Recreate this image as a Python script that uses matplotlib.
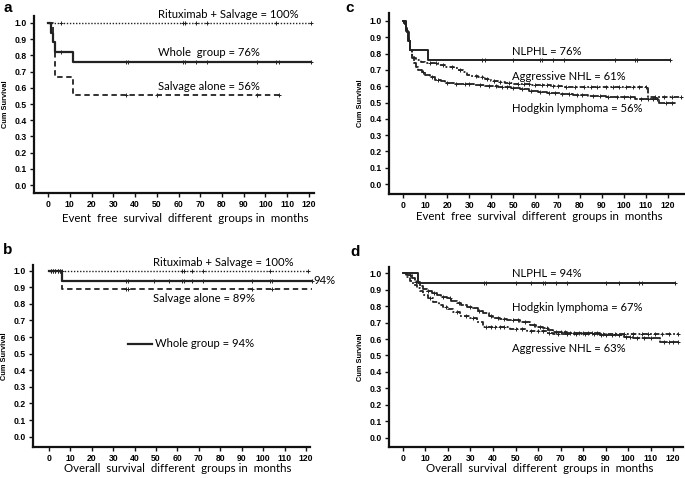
import numpy as np
import matplotlib
matplotlib.use("Agg")
import matplotlib.pyplot as plt
import matplotlib.transforms as mtransforms

# ---------------- DATA ----------------
# Panel a: event free survival by treatment
a_ritux_t = [0, 121]
a_ritux_s = [1.0, 1.0]
a_ritux_cens = [6, 62, 63, 68, 73, 105, 121]
a_whole_t = [0, 1.2, 2.4, 3.2, 11.3, 121]
a_whole_s = [1.0, 0.94, 0.88, 0.82, 0.76, 0.76]
a_whole_cens = [6, 36, 37, 62, 63, 68, 73, 96, 105, 106, 121]
a_salv_t = [0, 2.4, 3.2, 11.3, 106]
a_salv_s = [1.0, 0.89, 0.667, 0.556, 0.556]
a_salv_cens = [36, 50, 96, 106]

# Panel b: overall survival by treatment
b_ritux_t = [0, 121]
b_ritux_s = [1.0, 1.0]
b_ritux_cens = [1, 2, 3, 4, 5, 6, 62, 63, 67, 72, 103, 121]
b_whole_t = [0, 6.3, 123]
b_whole_s = [1.0, 0.94, 0.94]
b_whole_cens = [1, 2, 3, 4, 5, 36, 37, 49, 56, 62, 63, 67, 72, 95, 103, 104, 123]
b_salv_t = [0, 6.3, 123]
b_salv_s = [1.0, 0.89, 0.89]
b_salv_cens = [36, 37, 95, 104]

# Panel c: event free survival by histology
c_nlphl_t = [0, 1.2, 2.4, 3.2, 11.3, 121]
c_nlphl_s = [1.0, 0.94, 0.88, 0.82, 0.76, 0.76]
c_nlphl_cens = [36, 37, 50, 62, 63, 68, 73, 96, 105, 106, 121]
c_nhl_t = [0, 0.5, 1, 1.5, 2, 2.5, 3, 4, 5, 6, 8, 10, 13, 16, 19, 21, 23, 25, 27, 29, 31,
           34, 37, 40, 43, 46, 50, 58, 67, 72, 111, 126]
c_nhl_s = [1.0, 0.99, 0.98, 0.96, 0.93, 0.88, 0.82, 0.79, 0.77, 0.76, 0.75, 0.745, 0.74,
           0.73, 0.72, 0.715, 0.71, 0.70, 0.685, 0.67, 0.66, 0.655, 0.645, 0.635, 0.625,
           0.62, 0.613, 0.607, 0.60, 0.595, 0.535, 0.535]
c_nhl_cens = [12, 15, 18, 22, 26, 33, 36, 38, 41, 44, 48, 52, 55, 57, 60, 63, 65, 68, 70,
              74, 78, 82, 85, 88, 92, 95, 98, 101, 104, 107, 110, 114, 118, 122, 126]
c_hl_t = [0, 0.5, 1, 1.5, 2, 2.5, 3, 4, 5, 6, 7, 8.5, 10, 12, 14.5, 17, 19, 23, 27, 32, 37,
          43, 49, 53, 57, 61, 65, 71, 77, 84, 92, 105, 116, 124]
c_hl_s = [1.0, 0.99, 0.98, 0.96, 0.93, 0.88, 0.82, 0.77, 0.74, 0.72, 0.70, 0.685, 0.67,
          0.655, 0.64, 0.63, 0.62, 0.615, 0.613, 0.605, 0.60, 0.595, 0.587, 0.58, 0.572,
          0.565, 0.56, 0.553, 0.546, 0.54, 0.536, 0.52, 0.50, 0.50]
c_hl_cens = [9, 13, 16, 20, 24, 28, 30, 35, 39, 42, 45, 47, 50, 54, 58, 62, 66, 69, 72, 75,
             79, 81, 86, 89, 93, 97, 100, 103, 108, 111, 113, 115, 119, 122]

# Panel d: overall survival by histology
d_nlphl_t = [0, 6.5, 121]
d_nlphl_s = [1.0, 0.943, 0.943]
d_nlphl_cens = [36, 37, 50, 57, 62, 63, 68, 73, 90, 96, 105, 106, 121]
d_hl_t = [0, 2, 3.9, 5.5, 7.6, 9, 10.5, 13, 15, 17, 19.4, 21.5, 23.9, 26, 28.3, 31.3, 33.5,
          35.7, 38, 40.1, 43, 46, 52, 56.4, 59, 62.4, 64.5, 66.8, 72.7, 87.6, 98, 102,
          114, 122]
d_hl_s = [1.0, 0.99, 0.97, 0.945, 0.92, 0.905, 0.89, 0.878, 0.868, 0.858, 0.848, 0.833,
          0.818, 0.808, 0.797, 0.787, 0.772, 0.757, 0.742, 0.727, 0.721, 0.716, 0.706,
          0.686, 0.676, 0.666, 0.655, 0.645, 0.635, 0.625, 0.615, 0.605, 0.58, 0.58]
d_hl_cens = [3, 6, 11, 14, 18, 21, 25, 30, 34, 39, 42, 45, 49, 51, 54, 58, 61, 64, 68, 70,
             72, 74, 76, 78, 80, 82, 84, 86, 88, 90, 93, 96, 99, 101, 104, 107, 110, 116,
             118, 120, 122]
d_nhl_t = [0, 1.5, 3.1, 4.5, 6.1, 7.5, 9, 11, 13.5, 16, 17.9, 20, 22.4, 25.3, 29.8, 32.7,
           35.7, 47.6, 55, 63.9, 66.8, 122]
d_nhl_s = [1.0, 0.98, 0.95, 0.93, 0.91, 0.89, 0.868, 0.848, 0.828, 0.81, 0.797, 0.782,
           0.767, 0.74, 0.727, 0.706, 0.676, 0.66, 0.65, 0.635, 0.629, 0.629]
d_nhl_cens = [12, 19, 24, 28, 31, 37, 39, 41, 43, 45, 50, 53, 57, 60, 62, 65, 69, 73, 77,
              81, 85, 89, 94, 98, 102, 106, 109, 112, 115, 118, 122]

y_ticks = [0.0, 0.1, 0.2, 0.3, 0.4, 0.5, 0.6, 0.7, 0.8, 0.9, 1.0]
x_ticks = [0, 10, 20, 30, 40, 50, 60, 70, 80, 90, 100, 110, 120]

# ---------------- STYLE ----------------
W, H = 685, 478
fig = plt.figure(figsize=(W / 100, H / 100), dpi=100)
TXT = "Lato"
FS = 8.1
XFS = 8.3
TICKFONT = dict(family="Liberation Sans", weight="bold", size=6.2)
LINEC = "#222222"


def make_axes(left, right, top, bottom, xlim, ylim):
    ax = fig.add_axes([left / W, 1 - bottom / H, (right - left) / W, (bottom - top) / H])
    ax.set_xlim(*xlim)
    ax.set_ylim(*ylim)
    for s in ["top", "right"]:
        ax.spines[s].set_visible(False)
    for s in ["left", "bottom"]:
        ax.spines[s].set_linewidth(1.6)
        ax.spines[s].set_color("#111111")
    ax.set_yticks(y_ticks)
    ax.set_yticklabels([f"{v:.1f}" for v in y_ticks], fontdict=TICKFONT)
    ax.set_xticks(x_ticks)
    ax.set_xticklabels([str(v) for v in x_ticks], fontdict=TICKFONT)
    ax.tick_params(axis="both", length=3, width=1.0, color="#111111", pad=2)
    ax.set_ylabel("Cum Survival", family="Liberation Sans", weight="bold", fontsize=5.3,
                  labelpad=4)
    ax.patch.set_alpha(0)
    return ax


def xlabel(ax, xc, ypix, text):
    trans = mtransforms.blended_transform_factory(ax.transData, fig.transFigure)
    ax.text(xc, 1 - ypix / H, text, transform=trans, family=TXT, fontsize=XFS,
            ha="center", va="center")


def km(ax, t, s, cens, ls, lw=1.2, color=LINEC, ms=3.0):
    t = np.asarray(t, float)
    s = np.asarray(s, float)
    ax.step(t, s, where="post", ls=ls, lw=lw, color=color, clip_on=False)
    c = np.asarray(cens, float)
    idx = np.searchsorted(t, c, side="right") - 1
    idx = np.clip(idx, 0, len(s) - 1)
    ax.plot(c, s[idx], ls="none", marker="+", ms=ms, mew=0.7, color=color, clip_on=False)


dotted = (0, (1.0, 1.2))
dashed = (0, (3.0, 2.0))
dashdot = (0, (3.0, 1.2, 1.0, 1.2))
hlstyle = (0, (5.0, 0.8))

# ---- Panel a ----
ax = make_axes(34, 314, 16, 193, (-6.44, 122.3), (-0.049, 1.043))
km(ax, a_ritux_t, a_ritux_s, a_ritux_cens, dotted, lw=1.0)
km(ax, a_whole_t, a_whole_s, a_whole_cens, "-", lw=1.6)
km(ax, a_salv_t, a_salv_s, a_salv_cens, dashed, lw=1.3)
xlabel(ax, 63.2, 219, "Event  free  survival  different  groups in  months")
ax.text(50.5, 1.055, "Rituximab + Salvage = 100%", family=TXT, fontsize=FS, va="center")
ax.text(50.5, 0.815, "Whole  group = 76%", family=TXT, fontsize=FS, va="center")
ax.text(50.5, 0.605, "Salvage alone = 56%", family=TXT, fontsize=FS, va="center")

# ---- Panel b ----
ax = make_axes(33, 310, 265, 447.3, (-7.47, 121.9), (-0.064, 1.034))
km(ax, b_ritux_t, b_ritux_s, b_ritux_cens, dotted, lw=1.0)
km(ax, b_whole_t, b_whole_s, b_whole_cens, "-", lw=1.6)
km(ax, b_salv_t, b_salv_s, b_salv_cens, dashed, lw=1.3)
xlabel(ax, 60.0, 469, "Overall  survival  different  groups in  months")
ax.text(48.5, 1.05, "Rituximab + Salvage = 100%", family=TXT, fontsize=FS, va="center")
ax.text(123.3, 0.938, "94%", family=TXT, fontsize=FS, va="center")
ax.text(48.5, 0.83, "Salvage alone = 89%", family=TXT, fontsize=FS, va="center")
ax.plot([37, 48], [0.56, 0.56], color=LINEC, lw=1.6)
ax.text(49.3, 0.56, "Whole group = 94%", family=TXT, fontsize=FS, va="center")

# ---- Panel c ----
ax = make_axes(389, 685, 13, 194, (-6.34, 127.7), (-0.061, 1.049))
km(ax, c_nlphl_t, c_nlphl_s, c_nlphl_cens, "-", lw=1.4)
km(ax, c_nhl_t, c_nhl_s, c_nhl_cens, dashdot, lw=1.3)
km(ax, c_hl_t, c_hl_s, c_hl_cens, hlstyle, lw=1.3)
xlabel(ax, 61.6, 216, "Event  free  survival  different  groups in  months")
ax.text(49.5, 0.815, "NLPHL = 76%", family=TXT, fontsize=FS, va="center")
ax.text(49.5, 0.66, "Aggressive NHL = 61%", family=TXT, fontsize=FS, va="center")
ax.text(49.5, 0.465, "Hodgkin lymphoma = 56%", family=TXT, fontsize=FS, va="center")

# ---- Panel d ----
ax = make_axes(389, 683, 266.7, 446.7, (-6.2, 124.4), (-0.055, 1.04))
km(ax, d_nlphl_t, d_nlphl_s, d_nlphl_cens, "-", lw=1.4)
km(ax, d_hl_t, d_hl_s, d_hl_cens, hlstyle, lw=1.3)
km(ax, d_nhl_t, d_nhl_s, d_nhl_cens, dashdot, lw=1.3)
xlabel(ax, 60.7, 469, "Overall  survival  different  groups in  months")
ax.text(48.5, 1.0, "NLPHL = 94%", family=TXT, fontsize=FS, va="center")
ax.text(48.5, 0.79, "Hodgkin lymphoma = 67%", family=TXT, fontsize=FS, va="center")
ax.text(48.5, 0.545, "Aggressive NHL = 63%", family=TXT, fontsize=FS, va="center")

# panel letters
for lab, x, y in [("a", 3, 8), ("b", 3, 250), ("c", 345, 8), ("d", 350, 252)]:
    fig.text(x / W, 1 - y / H, lab, family="Liberation Sans", weight="bold", fontsize=11,
             va="center", ha="left")

fig.savefig("out.png", dpi=100)
